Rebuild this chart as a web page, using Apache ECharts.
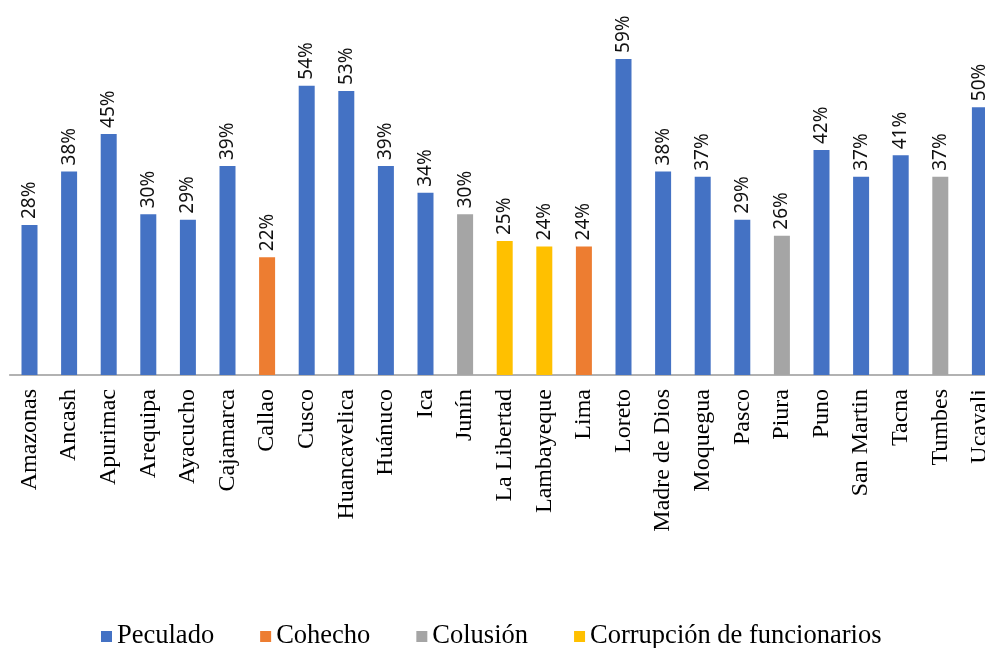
<!DOCTYPE html>
<html>
<head>
<meta charset="utf-8">
<script src="https://cdn.jsdelivr.net/npm/echarts@6/dist/echarts.min.js"></script>
<style>html,body{margin:0;padding:0;background:#fff;overflow:hidden}#c{width:1000px;height:648px}</style>
</head>
<body>
<div id="c"></div>
<script>
const categories = ["Amazonas","Ancash","Apurimac","Arequipa","Ayacucho","Cajamarca","Callao","Cusco","Huancavelica","Huánuco","Ica","Junín","La Libertad","Lambayeque","Lima","Loreto","Madre de Dios","Moquegua","Pasco","Piura","Puno","San Martin","Tacna","Tumbes","Ucayali"];
const peculado   = [28,38,45,30,29,39,null,54,53,39,34,null,null,null,null,59,38,37,29,null,42,37,41,null,50];
const cohecho    = [null,null,null,null,null,null,22,null,null,null,null,null,null,null,24,null,null,null,null,null,null,null,null,null,null];
const colusion   = [null,null,null,null,null,null,null,null,null,null,null,30,null,null,null,null,null,null,null,26,null,null,null,37,null];
const corrupcion = [null,null,null,null,null,null,null,null,null,null,null,null,25,24,null,null,null,null,null,null,null,null,null,null,null];
const seriesNames = ["Peculado","Cohecho","Colusión","Corrupción de funcionarios"];
const colors = ["#4472C4","#ED7D31","#A5A5A5","#FFC000"];

const chart = echarts.init(document.getElementById('c'));
function mk(name, data, color){
  return {
    name, type:'bar', stack:'all', data, barWidth:16,
    itemStyle:{color},
    label:{
      show:true, position:'top', rotate:90, align:'left', verticalAlign:'middle',
      distance:6, fontFamily:'Noto Sans', fontSize:19, color:'#111',
      formatter: p => (p.value==null ? '' : p.value + '%')
    }
  };
}
chart.setOption({
  animation:false,
  grid:{left:9.7, right:0.3, top:0, bottom:273, containLabel:false},
  legend:{
    data:seriesNames, left:96, top:618, itemWidth:11, itemHeight:11, itemGap:46,
    icon:'rect',
    textStyle:{fontFamily:'Liberation Serif', fontSize:26.5, color:'#000'}
  },
  xAxis:{
    type:'category', data:categories,
    axisTick:{show:false},
    axisLine:{lineStyle:{color:'#999', width:1.5}},
    axisLabel:{interval:0, rotate:90, margin:14, fontFamily:'Liberation Serif', fontSize:24, color:'#000'}
  },
  yAxis:{type:'value', min:0, max:70, show:false, splitLine:{show:false}},
  series:[
    mk(seriesNames[0], peculado, colors[0]),
    mk(seriesNames[1], cohecho, colors[1]),
    mk(seriesNames[2], colusion, colors[2]),
    mk(seriesNames[3], corrupcion, colors[3])
  ]
});
</script>
</body>
</html>
